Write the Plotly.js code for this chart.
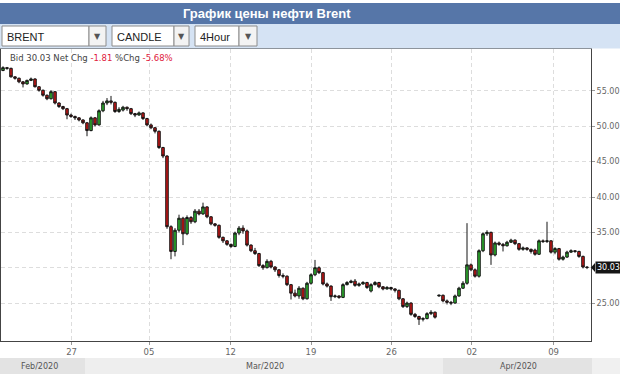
<!DOCTYPE html>
<html>
<head>
<meta charset="utf-8">
<script src="https://cdn.plot.ly/plotly-3.0.1.min.js"></script>
<style>html,body{margin:0;padding:0;background:#fff;}#chart{width:620px;height:374px;}</style>
</head>
<body>
<div id="chart"></div>
<script>
// ---- Data (Brent, 4-hour candles) ----
const openP = [57.9,58.3,58.2,57.0,56.8,56.3,56.0,56.5,56.7,55.6,55.1,54.4,53.9,54.9,53.3,52.8,52.5,51.6,51.4,51.2,
50.9,50.5,49.4,51.2,50.2,52.2,53.3,53.6,53.4,52.1,52.3,52.7,52.5,51.8,51.6,51.9,51.1,50.2,49.8,49.3,
47.0,45.8,35.8,32.3,35.3,37.0,34.8,37.1,36.5,38.0,37.6,38.6,37.2,36.2,36.0,34.3,33.8,33.3,33.0,34.9,
35.6,35.2,33.2,32.4,32.0,30.3,30.0,30.9,30.1,29.7,28.9,28.8,27.6,26.4,26.0,27.1,25.6,27.8,29.0,30.0,
29.3,27.7,27.4,25.9,26.0,25.8,27.6,27.9,28.1,27.5,27.7,27.9,26.7,27.6,27.9,27.3,27.0,27.2,27.0,26.8,
25.6,24.5,25.0,23.4,23.1,22.7,22.8,23.5,23.7,26.0,26.1,25.3,25.1,25.0,26.0,27.1,27.8,30.4,29.7,28.8,
32.4,34.8,35.0,31.8,33.5,33.3,33.1,33.6,33.9,33.4,32.6,32.8,32.6,32.5,31.9,33.8,33.7,33.8,32.2,32.7,
31.2,31.5,32.2,32.4,32.3,31.6,30.1];
const highP = [58.5,58.4,58.3,57.1,56.9,56.4,56.6,56.9,56.8,55.7,55.2,54.5,55.1,55.0,53.4,52.9,52.6,51.8,51.5,51.3,
51.0,50.6,51.4,51.3,52.4,53.6,54.0,54.3,53.5,52.7,52.9,52.8,52.6,51.9,52.1,52.0,51.2,50.4,49.9,49.4,
47.1,45.9,36.0,35.6,37.5,37.2,37.4,37.3,38.3,38.3,39.2,38.7,37.3,36.3,36.1,34.4,33.9,33.4,35.1,35.9,
36.0,35.4,33.3,32.8,32.1,30.5,31.2,31.1,30.2,29.8,29.2,28.9,27.7,26.9,27.4,27.2,28.0,29.2,31.1,30.2,
29.4,27.9,27.5,26.2,26.1,27.8,28.1,28.3,28.4,27.9,28.1,28.0,27.8,28.1,28.0,27.4,27.4,27.3,27.1,26.9,
25.7,25.2,25.1,23.6,23.2,23.0,23.7,24.0,23.8,26.2,26.2,25.5,25.3,26.2,27.3,28.1,36.3,30.6,29.9,32.6,
35.0,35.3,35.1,33.7,33.7,33.5,33.8,34.1,34.0,33.5,33.0,32.9,32.7,32.7,34.0,34.0,36.5,33.9,32.9,32.8,
31.7,32.4,32.6,32.5,32.4,31.7,30.2];
const lowP = [57.8,58.0,56.9,56.6,56.1,55.5,55.9,56.4,55.5,54.9,54.2,53.7,53.8,53.1,52.6,52.3,51.0,51.2,50.9,50.7,
50.3,48.6,49.3,50.0,50.1,52.0,53.0,53.1,51.9,51.9,52.1,52.2,51.6,51.3,51.5,50.9,50.0,49.6,49.0,46.8,
45.5,35.5,31.2,31.6,35.0,33.2,34.6,36.2,36.3,37.4,37.5,37.0,36.0,35.8,34.1,33.5,33.1,32.8,32.9,34.6,
34.8,33.0,32.2,31.8,30.1,29.7,29.9,29.9,29.4,28.6,28.5,27.4,25.5,25.8,25.6,25.4,25.5,27.6,28.8,29.1,
27.5,27.2,25.3,25.7,25.6,25.7,27.5,27.8,27.3,27.3,27.6,27.0,26.5,27.5,27.1,26.8,26.9,26.8,26.5,25.4,
24.3,24.3,23.2,22.9,21.9,22.4,22.7,23.3,22.8,25.9,25.1,24.8,24.7,24.9,25.9,27.0,27.6,29.5,28.6,28.6,
32.2,34.5,30.4,31.6,33.1,32.3,33.0,33.5,33.2,32.4,32.4,32.4,32.0,31.7,31.8,33.5,33.5,32.0,31.9,31.0,
31.0,31.4,32.1,32.1,31.4,29.9,29.8];
const closeP = [58.3,58.2,57.0,56.8,56.3,56.0,56.5,56.7,55.6,55.1,54.4,53.9,54.9,53.3,52.8,52.5,51.6,51.4,51.2,50.9,
50.5,49.4,51.2,50.2,52.2,53.3,53.6,53.4,52.1,52.4,52.7,52.5,51.8,51.6,51.9,51.1,50.2,49.8,49.3,47.0,
45.8,35.8,32.3,35.3,37.0,34.8,37.1,36.5,38.0,37.6,38.6,37.2,36.2,36.0,34.3,33.8,33.3,33.0,34.9,35.6,
35.2,33.2,32.4,32.0,30.3,30.0,30.9,30.1,29.7,28.9,28.8,27.6,26.4,26.0,27.1,25.6,27.8,29.0,30.0,29.3,
27.7,27.4,25.9,26.0,25.8,27.6,27.9,28.1,27.5,27.7,27.9,27.2,27.6,27.9,27.3,27.0,27.2,27.0,26.8,25.6,
24.5,25.0,23.4,23.1,22.7,22.8,23.5,23.7,23.0,26.1,25.3,25.1,25.0,26.0,27.1,27.8,30.4,29.7,28.8,32.4,
34.8,35.0,31.8,33.5,33.3,33.1,33.6,33.9,33.4,32.6,32.8,32.6,32.3,31.9,33.8,33.7,33.8,32.2,32.7,31.2,
31.5,32.2,32.4,32.3,31.6,30.1,30.03];

const dayTickPos = [17.15, 36.5, 56.9, 77.0, 97.1, 117.2, 137.65];
const dayTickLabels = ['27','05','12','19','26','02','09'];
const priceTicks = [25,30,35,40,45,50,55];
const monthLabels = ['Feb/2020','Mar/2020','Apr/2020'];
const lastBid = 30.03, netChg = -1.81, pctChg = -5.68;

// ---- helpers: pixel -> paper coords (plot area x:1..591, y:49..341) ----
const L = 1, R = 591, T = 49, B = 341;
const px = x => (x - L) / (R - L);
const py = y => (B - y) / (B - T);

const idx = closeP.map((_, i) => i);

const trace = {
  type: 'candlestick',
  x: idx, open: openP, high: highP, low: lowP, close: closeP,
  increasing: {line: {color: '#151515', width: 1}, fillcolor: '#2cb52c'},
  decreasing: {line: {color: '#151515', width: 1}, fillcolor: '#c81414'},
  whiskerwidth: 0,
  hoverinfo: 'skip'
};

const rect = (x0, x1, y0, y1, fill, line) => ({
  type: 'rect', xref: 'paper', yref: 'paper', x0: px(x0), x1: px(x1), y0: py(y0), y1: py(y1),
  fillcolor: fill, line: line || {width: 0}, layer: 'above'
});

const shapes = [
  rect(-2, 622, 0, 3, '#ffffff'),
  rect(-2, 622, 3, 24, '#5676a8'),
  rect(-2, 622, 24, 48.5, '#d5e3f4'),
  // dropdowns
  rect(2, 89, 26, 46, '#ffffff', {color: '#8c8c8c', width: 1}),
  rect(89, 106, 26, 46, '#f3f3f3', {color: '#8c8c8c', width: 1}),
  rect(112, 174, 26, 46, '#ffffff', {color: '#8c8c8c', width: 1}),
  rect(174, 189, 26, 46, '#f3f3f3', {color: '#8c8c8c', width: 1}),
  rect(195, 239, 26, 46, '#ffffff', {color: '#8c8c8c', width: 1}),
  rect(239, 257, 26, 46, '#f3f3f3', {color: '#8c8c8c', width: 1}),
  // month band
  rect(-2, 85, 358, 376, '#e3e3e3'),
  rect(85, 443, 358, 376, '#eeeeee'),
  rect(443, 592, 358, 376, '#e3e3e3'),
  rect(592, 622, 358, 376, '#f0f0f0'),
  // last price pointer
  {type: 'path', xref: 'paper', yref: 'y', xsizemode: 'pixel', ysizemode: 'pixel',
   xanchor: px(591), yanchor: lastBid, path: 'M0,0 L4,4.5 L4,-4.5 Z',
   fillcolor: '#151515', line: {width: 0}, layer: 'above'}
];

const ann = (x, y, text, opts) => Object.assign({
  xref: 'paper', yref: 'paper', x: px(x), y: py(y), text: text, showarrow: false,
  xanchor: 'center', yanchor: 'middle'
}, opts || {});

const fDrop = {family: 'Liberation Sans, Arial, sans-serif', size: 11, color: '#222'};
const fArrow = {family: 'DejaVu Sans', size: 8, color: '#555'};
const annotations = [
  ann(267, 13.5, '<b>График цены нефти Brent</b>', {font: {family: 'Liberation Sans, Arial, sans-serif', size: 13, color: '#ffffff'}}),
  ann(5, 36.5, 'BRENT', {xanchor: 'left', font: fDrop}),
  ann(115, 36.5, 'CANDLE', {xanchor: 'left', font: fDrop}),
  ann(198, 36.5, '4Hour', {xanchor: 'left', font: fDrop}),
  ann(97.5, 36.5, '▼', {font: fArrow}),
  ann(181.5, 36.5, '▼', {font: fArrow}),
  ann(248, 36.5, '▼', {font: fArrow}),
  ann(8, 58, 'Bid ' + lastBid.toFixed(2) + ' Net Chg <span style="color:#e0203c">' + netChg.toFixed(2) +
      '</span> %Chg <span style="color:#e0203c">' + pctChg.toFixed(2) + '%</span>',
      {xanchor: 'left', font: {family: 'DejaVu Sans', size: 8.5, color: '#444'}}),
  ann(39.5, 366, monthLabels[0], {font: {family: 'DejaVu Sans', size: 8, color: '#555'}}),
  ann(265, 366, monthLabels[1], {font: {family: 'DejaVu Sans', size: 8, color: '#555'}}),
  ann(518.5, 366, monthLabels[2], {font: {family: 'DejaVu Sans', size: 8, color: '#555'}}),
  {xref: 'paper', yref: 'y', x: px(594.5), y: lastBid, text: lastBid.toFixed(2), showarrow: false,
   xanchor: 'left', yanchor: 'middle', bgcolor: '#151515', borderpad: 1,
   font: {family: 'DejaVu Sans', size: 8, color: '#ffffff'}}
];

const layout = {
  width: 620, height: 374,
  margin: {l: L, r: 620 - R, t: T, b: 374 - B, pad: 0},
  paper_bgcolor: '#ffffff', plot_bgcolor: '#ffffff',
  showlegend: false,
  boxgap: 0.1,
  xaxis: {
    type: 'linear', range: [-0.5, 147], tickvals: dayTickPos, ticktext: dayTickLabels,
    showgrid: true, gridcolor: '#dddddd', griddash: '4px,3px', gridwidth: 1,
    ticks: 'outside', ticklen: 3, tickcolor: '#999',
    tickfont: {family: 'DejaVu Sans', size: 8.5, color: '#666'},
    showline: true, linecolor: '#444', linewidth: 1, mirror: true, zeroline: false,
    rangeslider: {visible: false}, fixedrange: true
  },
  yaxis: {
    side: 'right', range: [19.63, 60.94], tickvals: priceTicks, tickformat: '.2f',
    showgrid: true, gridcolor: '#dddddd', griddash: '4px,3px', gridwidth: 1,
    ticks: 'outside', ticklen: 3, tickcolor: '#999',
    tickfont: {family: 'DejaVu Sans', size: 8, color: '#666'},
    showline: true, linecolor: '#444', linewidth: 1, mirror: true, zeroline: false,
    fixedrange: true
  },
  shapes: shapes,
  annotations: annotations
};

Plotly.newPlot('chart', [trace], layout, {displayModeBar: false, staticPlot: true});
</script>
</body>
</html>
